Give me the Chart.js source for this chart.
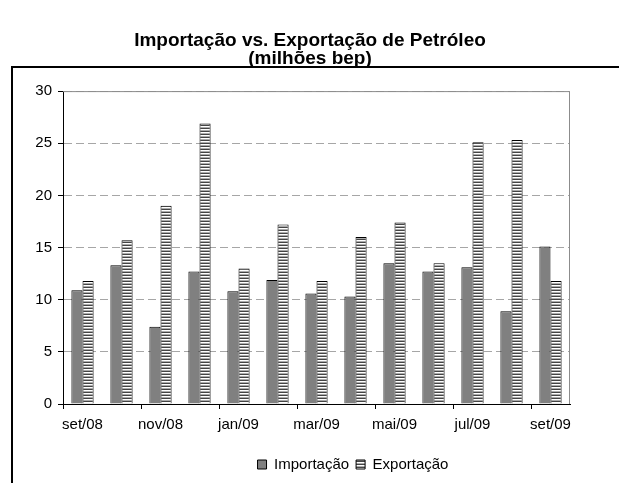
<!DOCTYPE html>
<html>
<head>
<meta charset="utf-8">
<script src="https://cdn.jsdelivr.net/npm/chart.js@4.4.1/dist/chart.umd.min.js"></script>
<style>
    html, body { margin: 0; padding: 0; background: #fff; }
    #wrap { position: relative; width: 619px; height: 483px; overflow: hidden; }
    #frame {
        position: absolute; left: 11px; top: 66px; width: 700px; height: 500px;
        border-left: 2px solid #000; border-top: 2px solid #000; pointer-events: none;
    }
</style>
</head>
<body>
<div id="wrap">
    <canvas id="chart" width="619" height="483"></canvas>
    <div id="frame"></div>
</div>
<script>
const months = ['set/08', 'out/08', 'nov/08', 'dez/08', 'jan/09', 'fev/09', 'mar/09',
                'abr/09', 'mai/09', 'jun/09', 'jul/09', 'ago/09', 'set/09'];
const importacao = [10.9, 13.3, 7.4, 12.7, 10.8, 11.9, 10.6, 10.3, 13.5, 12.7, 13.1, 8.9, 15.1];
const exportacao = [11.8, 15.7, 19.0, 26.9, 13.0, 17.2, 11.8, 16.0, 17.4, 13.5, 25.1, 25.3, 11.8];
const yTicks = [0, 5, 10, 15, 20, 25, 30];

// horizontal stripe pattern for the export bars
function stripes() {
    const c = document.createElement('canvas');
    c.width = 4; c.height = 3;
    const g = c.getContext('2d');
    g.fillStyle = '#ffffff'; g.fillRect(0, 0, 4, 3);
    g.fillStyle = '#ababab'; g.fillRect(0, 1, 4, 1);
    g.fillStyle = '#444444'; g.fillRect(0, 2, 4, 1);
    return g.createPattern(c, 'repeat');
}

// gray frame around the plot area (top and right)
const plotFrame = {
    id: 'plotFrame',
    beforeDatasetsDraw(chart) {
        const a = chart.chartArea, ctx = chart.ctx;
        ctx.save();
        ctx.strokeStyle = '#8c8c8c';
        ctx.lineWidth = 1;
        ctx.beginPath();
        ctx.moveTo(a.left, a.top + 0.5);
        ctx.lineTo(a.right - 0.5, a.top + 0.5);
        ctx.lineTo(a.right - 0.5, a.bottom);
        ctx.stroke();
        ctx.restore();
    },
    afterLayout(chart) {
        // title centred on the whole picture, legend a bit right of centre
        chart.titleBlock.left += 25;
        chart.titleBlock.right += 25;
        chart.legend.left += 68;
        chart.legend.right += 68;
    }
};

const font = { family: '"Liberation Sans", Arial, sans-serif', size: 15 };

new Chart(document.getElementById('chart'), {
    type: 'bar',
    data: {
        labels: months,
        datasets: [
            { label: 'Importação', data: importacao, backgroundColor: '#808080',
              borderColor: '#000', borderWidth: 1, borderSkipped: 'bottom' },
            { label: 'Exportação', data: exportacao, backgroundColor: stripes(),
              borderColor: '#000', borderWidth: 1, borderSkipped: 'bottom' }
        ]
    },
    options: {
        responsive: false,
        animation: false,
        layout: { padding: { left: 0, right: 49, top: 0, bottom: 1 } },
        datasets: { bar: { categoryPercentage: 0.57, barPercentage: 1.0 } },
        plugins: {
            title: {
                display: true,
                text: ['Importação vs. Exportação de Petróleo', '(milhões bep)'],
                color: '#000',
                font: { family: font.family, size: 19, weight: 'bold', lineHeight: 0.95 },
                padding: { top: 32, bottom: 23 }
            },
            legend: {
                position: 'bottom',
                labels: {
                    color: '#000', font: font, boxWidth: 9, boxHeight: 9, padding: 7,
                    generateLabels(chart) {
                        return chart.data.datasets.map((d, i) => ({
                            text: d.label, fillStyle: d.backgroundColor, strokeStyle: '#000',
                            lineWidth: 1, datasetIndex: i, fontColor: '#000'
                        }));
                    }
                }
            },
            tooltip: { enabled: false }
        },
        scales: {
            x: {
                afterFit: s => { s.height += 9; },
                grid: {
                    offset: true, drawOnChartArea: false, tickLength: 5,
                    tickColor: ctx => (ctx.index !== undefined && ctx.index % 2 === 0) ? '#000' : 'rgba(0,0,0,0)'
                },
                border: { color: '#000', width: 1 },
                ticks: {
                    color: '#000', font: font, autoSkip: false, maxRotation: 0, padding: 7,
                    callback: (v, i) => i % 2 === 0 ? months[i] : ''
                }
            },
            y: {
                min: 0, max: 30,
                afterFit: s => { s.width = 63; },
                afterBuildTicks: s => { s.ticks = yTicks.map(v => ({ value: v })); },
                grid: {
                    color: ctx => ctx.tick && ctx.tick.value === 0 ? 'rgba(0,0,0,0)' : '#a6a6a6',
                    tickColor: '#000', tickLength: 5
                },
                border: { color: '#000', width: 1, dash: [8, 4] },
                ticks: { color: '#000', font: font, padding: 6 }
            }
        }
    },
    plugins: [plotFrame]
});
</script>
</body>
</html>
